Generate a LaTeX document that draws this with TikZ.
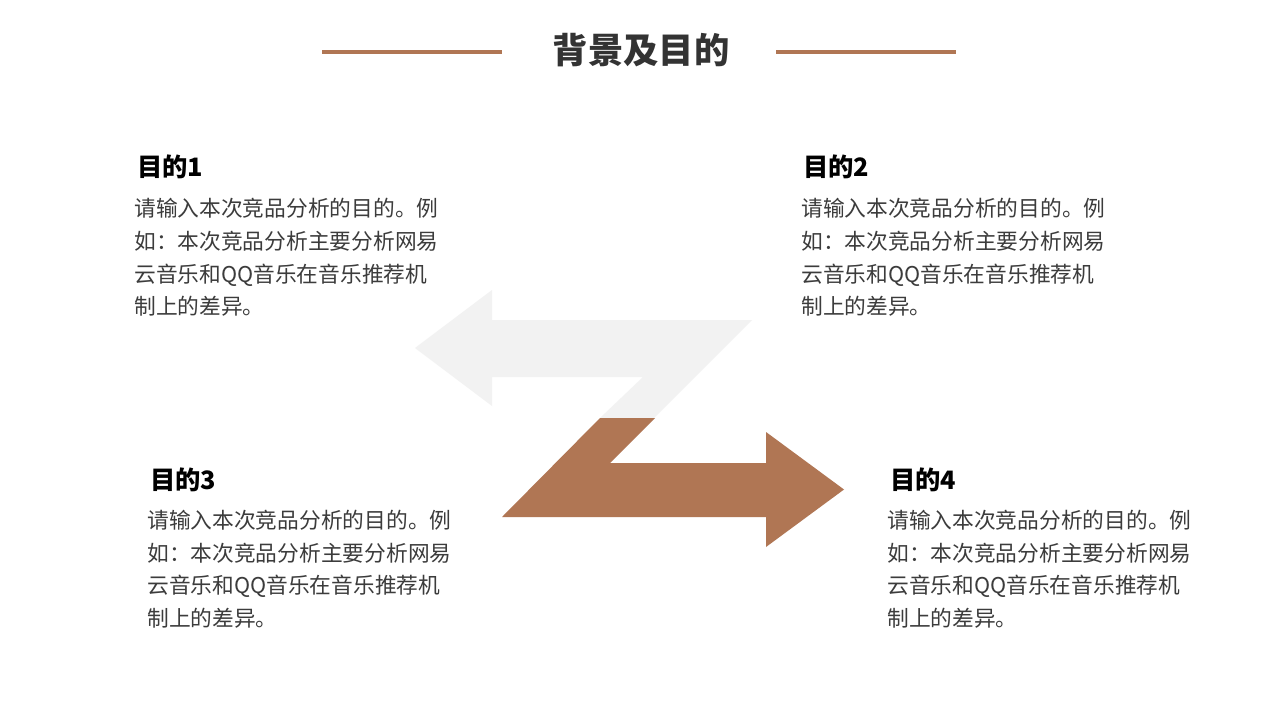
\documentclass[tikz,border=0pt]{standalone}
\usepackage{fontspec}
\setmainfont{Noto Sans CJK SC}
\definecolor{zbrown}{RGB}{176,118,84}
\definecolor{zgray}{RGB}{242,242,242}
\definecolor{titlec}{RGB}{51,51,51}
\definecolor{bodyc}{RGB}{60,60,60}
\begin{document}
\begin{tikzpicture}[x=0.75pt,y=-0.75pt,
  headtext/.style={anchor=base west,inner sep=0pt,font=\fontsize{19pt}{22pt}\selectfont\bfseries,text=black},
  bodytext/.style={anchor=base west,inner sep=0pt,text width=262pt,align=left,font=\fontsize{16.3pt}{24.4pt}\selectfont,text=bodyc},
  titlerule/.style={draw=zbrown,line width=2.6pt}]
\fill[white] (0,0) rectangle (1280,720);
\useasboundingbox (0,0) rectangle (1280,720);

% title
\node[anchor=base,inner sep=0pt,font=\fontsize{26.5pt}{30pt}\selectfont\bfseries,text=titlec] (title) at (641,64) {背景及目的};
\coordinate (la) at (322,52);
\coordinate (lb) at (502,52);
\coordinate (ra) at (776,52);
\coordinate (rb) at (956,52);
\draw[titlerule] (la) -- (lb);
\draw[titlerule] (ra) -- (rb);

% Z arrow: grey upper part
\fill[zgray] (415,348) -- (492,290) -- (492,320) -- (752,320) -- (654,418)
  -- (600,418) -- (643,377) -- (492,377) -- (492,406) -- cycle;
% brown lower part
\fill[zbrown] (600,418) -- (655,418) -- (610,463) -- (766,463) -- (766,432)
  -- (844,489.5) -- (766,547) -- (766,517) -- (502,517) -- cycle;

% block 1
\node[headtext] (h1) at (137,177) {目的1};
\node[bodytext] (b1) at (134,217) {请输入本次竞品分析的目的。例\\如：本次竞品分析主要分析网易\\云音乐和QQ音乐在音乐推荐机\\制上的差异。};
% block 2
\node[headtext] (h2) at (803,177) {目的2};
\node[bodytext] (b2) at (801,217) {请输入本次竞品分析的目的。例\\如：本次竞品分析主要分析网易\\云音乐和QQ音乐在音乐推荐机\\制上的差异。};
% block 3
\node[headtext] (h3) at (150,489) {目的3};
\node[bodytext] (b3) at (147,528.5) {请输入本次竞品分析的目的。例\\如：本次竞品分析主要分析网易\\云音乐和QQ音乐在音乐推荐机\\制上的差异。};
% block 4
\node[headtext] (h4) at (890,489) {目的4};
\node[bodytext] (b4) at (887,528.5) {请输入本次竞品分析的目的。例\\如：本次竞品分析主要分析网易\\云音乐和QQ音乐在音乐推荐机\\制上的差异。};
\end{tikzpicture}
\end{document}
